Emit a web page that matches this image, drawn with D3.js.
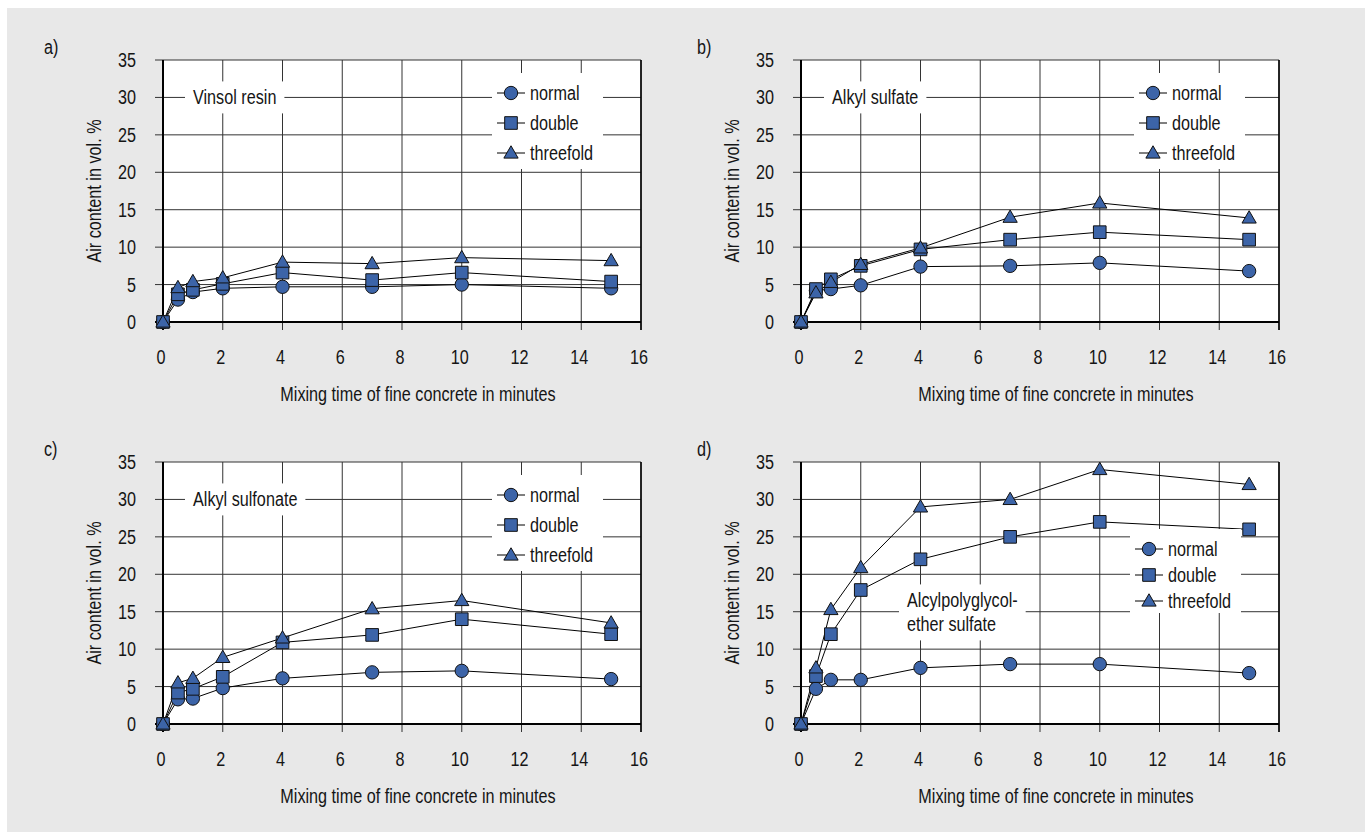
<!DOCTYPE html>
<html>
<head>
<meta charset="utf-8">
<script src="https://cdn.jsdelivr.net/npm/d3@7"></script>
<style>
  body { margin: 0; background: #fff; }
  text { font-family: "Liberation Sans", Arial, sans-serif; font-size: 20px; fill: #151515; }
</style>
</head>
<body>
<svg id="chart" width="1365" height="832"></svg>
<script>
// values
const minutes = [0, 0.5, 1, 2, 4, 7, 10, 15];
const seriesNames = ["normal", "double", "threefold"];
const panelTags = ["a)", "b)", "c)", "d)"];
const agentNames = [["Vinsol resin"], ["Alkyl sulfate"], ["Alkyl sulfonate"], ["Alcylpolyglycol-", "ether sulfate"]];
const xTicks = [0, 2, 4, 6, 8, 10, 12, 14, 16];
const yTicks = [0, 5, 10, 15, 20, 25, 30, 35];

// air content per dosage: normal, double, threefold
const vinsolResin = [
    [0, 3.0, 4.0, 4.5, 4.7, 4.7, 5.0, 4.5],
    [0, 3.7, 4.3, 5.1, 6.6, 5.6, 6.6, 5.4],
    [0, 4.6, 5.4, 5.9, 8.0, 7.8, 8.6, 8.2]
];
const alkylSulfate = [
    [0, 4.2, 4.4, 4.9, 7.4, 7.5, 7.9, 6.8],
    [0, 4.4, 5.7, 7.5, 9.7, 11.0, 12.0, 11.0],
    [0, 3.9, 5.3, 7.7, 9.9, 14.0, 15.9, 13.9]
];
const alkylSulfonate = [
    [0, 3.3, 3.4, 4.8, 6.1, 6.9, 7.1, 6.0],
    [0, 4.2, 4.7, 6.3, 10.9, 11.9, 14.0, 12.0],
    [0, 5.5, 6.1, 8.9, 11.5, 15.4, 16.5, 13.5]
];
const etherSulfate = [
    [0, 4.7, 5.9, 5.9, 7.5, 8.0, 8.0, 6.8],
    [0, 6.4, 12.0, 17.9, 22.0, 25.0, 27.0, 26.0],
    [0, 7.5, 15.3, 20.9, 29.0, 30.0, 34.0, 32.0]
];
const panelData = [vinsolResin, alkylSulfate, alkylSulfonate, etherSulfate];

// layout
const plotW = 478, plotH = 262;
const narrow = 0.81;
const panels = [
    {x: 163, y: 60, tag: [44, 54], note: [193, 97], legend: [329, 13, 30]},
    {x: 801, y: 60, tag: [697, 54], note: [832, 97], legend: [333, 13, 30]},
    {x: 163, y: 462, tag: [44, 456], note: [193, 499], legend: [329, 13, 30]},
    {x: 801, y: 462, tag: [697, 456], note: [907, 600], legend: [329, 67, 26]}
];
const markerFill = "#3c64a8";
const gridColor = "#333";

const svg = d3.select("#chart");
svg.append("rect").attr("x", 7).attr("y", 8).attr("width", 1365).attr("height", 832).attr("fill", "#e8e8e8");

// condensed-looking text: squeeze along the baseline
function addText(parent, x, y, str, anchor, rotate) {
    let t = parent.append("g")
        .attr("transform", `translate(${x},${y})${rotate ? " rotate(" + rotate + ")" : ""} scale(${narrow},1)`)
        .append("text")
        .attr("text-anchor", anchor || "start")
        .text(str);
    return t;
}

const symbolTypes = [d3.symbolCircle, d3.symbolSquare, d3.symbolTriangle];
const symbolSizes = [140, 160, 88];

function drawMarker(g, i, x, y) {
    g.append("path")
        .attr("transform", `translate(${x},${y + (i === 2 ? 1 : 0)})`)
        .attr("d", d3.symbol().type(symbolTypes[i]).size(symbolSizes[i])())
        .attr("fill", markerFill)
        .attr("stroke", "#111")
        .attr("stroke-width", 1);
}

panels.forEach(function(p, k) {
    let g = svg.append("g").attr("transform", `translate(${p.x},${p.y})`);
    let x = d3.scaleLinear().domain([0, 16]).range([0, plotW]);
    let y = d3.scaleLinear().domain([0, 35]).range([plotH, 0]);

    g.append("rect").attr("width", plotW).attr("height", plotH).attr("fill", "#fff");

    // grid
    g.append("g").selectAll("line").data(xTicks.slice(1)).enter().append("line")
        .attr("x1", d => x(d)).attr("x2", d => x(d))
        .attr("y1", 0).attr("y2", plotH + 8)
        .attr("stroke", gridColor).attr("stroke-width", 1);
    g.append("g").selectAll("line").data(yTicks.slice(1)).enter().append("line")
        .attr("x1", -8).attr("x2", plotW)
        .attr("y1", d => y(d)).attr("y2", d => y(d))
        .attr("stroke", gridColor).attr("stroke-width", 1);

    // axes
    g.append("line").attr("x1", 0).attr("x2", 0).attr("y1", 0).attr("y2", plotH + 8)
        .attr("stroke", "#000").attr("stroke-width", 2);
    g.append("line").attr("x1", -8).attr("x2", plotW).attr("y1", plotH).attr("y2", plotH)
        .attr("stroke", "#000").attr("stroke-width", 2);
    g.append("line").attr("x1", plotW).attr("x2", plotW).attr("y1", 0).attr("y2", plotH + 8)
        .attr("stroke", "#000").attr("stroke-width", 1.5);

    // tick labels
    yTicks.forEach(d => addText(g, -27, y(d) + 7, d, "end"));
    xTicks.forEach(d => addText(g, x(d) - 2, plotH + 42, d, "middle"));

    // axis titles
    addText(g, plotW / 2 + 16, plotH + 79, "Mixing time of fine concrete in minutes", "middle");
    addText(g, -62, plotH / 2, "Air content in vol. %", "middle", -90);

    addText(svg, p.tag[0], p.tag[1], panelTags[k]);

    // agent label on a white patch
    let note = svg.append("g");
    let noteBg = note.append("rect").attr("fill", "#fff");
    let noteText = note.append("g");
    agentNames[k].forEach(function(s, j) {
        addText(noteText, p.note[0], p.note[1] + 7 + j * 24, s);
    });
    let bb = noteText.node().getBBox();
    noteBg.attr("x", bb.x - 8).attr("y", bb.y - 5).attr("width", bb.width + 16).attr("height", bb.height + 10);

    // series
    let line = d3.line().x((d, i) => x(minutes[i])).y(d => y(d));
    panelData[k].forEach(function(vals) {
        g.append("path").datum(vals).attr("d", line)
            .attr("fill", "none").attr("stroke", "#000").attr("stroke-width", 1);
    });
    panelData[k].forEach(function(vals, i) {
        vals.forEach(function(v, j) { drawMarker(g, i, x(minutes[j]), y(v)); });
    });

    // legend
    let lg = g.append("g").attr("transform", `translate(${p.legend[0]},${p.legend[1]})`);
    let step = p.legend[2];
    lg.append("rect").attr("width", 111).attr("height", step * 3 + 6).attr("fill", "#fff");
    seriesNames.forEach(function(s, i) {
        let cy = 20 + i * step;
        lg.append("line").attr("x1", 5).attr("x2", 33).attr("y1", cy).attr("y2", cy)
            .attr("stroke", "#000").attr("stroke-width", 1);
        drawMarker(lg, i, 19, cy);
        addText(lg, 38, cy + 7, s);
    });
});
</script>
</body>
</html>
